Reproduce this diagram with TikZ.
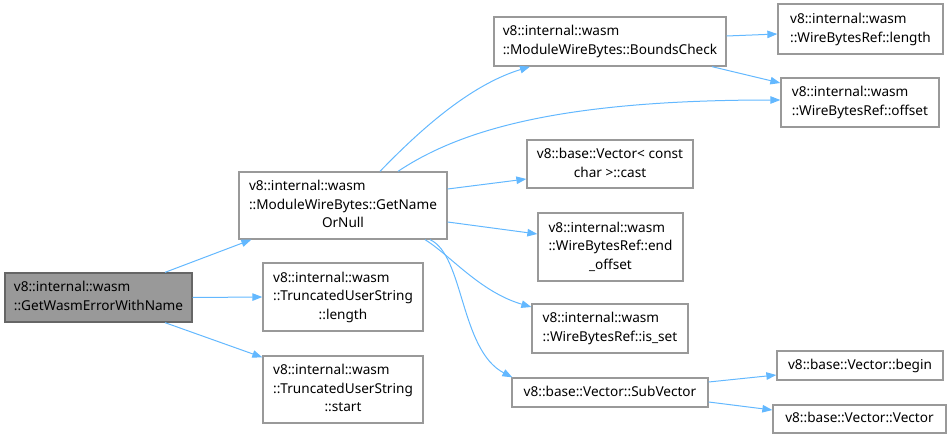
\documentclass[tikz,border=0pt]{standalone}
\usepackage{fontspec}
\setmainfont{Noto Sans}
\usetikzlibrary{arrows.meta}
\definecolor{edgeblue}{HTML}{63B8FF}
\definecolor{boxborder}{HTML}{999999}
\definecolor{hiborder}{HTML}{666666}
\definecolor{hifill}{HTML}{999999}
\newcommand{\lbl}[2]{\begin{tabular}{@{}l@{}}#1\\\multicolumn{1}{@{}c@{}}{#2}\end{tabular}}
\newcommand{\one}[1]{\begin{tabular}{@{}c@{}}#1\end{tabular}}
\begin{document}
\begin{tikzpicture}[x=1pt,y=-1pt,
  fn/.style={draw=boxborder,line width=1.3pt,fill=white,inner sep=0pt,
    font=\fontsize{13.6}{18.7}\selectfont},
  hi/.style={fn,draw=hiborder,fill=hifill},
  edge/.style={draw=edgeblue,line width=1pt,-{Triangle[length=10pt,width=7.5pt]}}]
\useasboundingbox (0,0) rectangle (951,439);
\node[hi,minimum width=187pt,minimum height=49pt] (A) at (98.5,297.5) {\lbl{v8::internal::wasm}{::GetWasmErrorWithName}};
\node[fn,minimum width=208pt,minimum height=67pt] (B) at (343,205.5) {\lbl{v8::internal::wasm\\::ModuleWireBytes::GetName}{OrNull}};
\node[fn,minimum width=160pt,minimum height=68pt] (C) at (343,297) {\lbl{v8::internal::wasm\\::TruncatedUserString}{::length}};
\node[fn,minimum width=160pt,minimum height=67pt] (D) at (343,389.5) {\lbl{v8::internal::wasm\\::TruncatedUserString}{::start}};
\node[fn,minimum width=232pt,minimum height=49pt] (E) at (610,41.5) {\lbl{v8::internal::wasm}{::ModuleWireBytes::BoundsCheck}};
\node[fn,minimum width=165pt,minimum height=50pt] (F) at (860.5,29) {\lbl{v8::internal::wasm}{::WireBytesRef::length}};
\node[fn,minimum width=158pt,minimum height=49pt] (G) at (860,102.5) {\lbl{v8::internal::wasm}{::WireBytesRef::offset}};
\node[fn,minimum width=166pt,minimum height=48pt] (H) at (610,164) {\lbl{v8::base::Vector< const}{char >::cast}};
\node[fn,minimum width=145pt,minimum height=68pt] (I) at (610.5,247) {\lbl{v8::internal::wasm\\::WireBytesRef::end}{\_offset}};
\node[fn,minimum width=156pt,minimum height=49pt] (J) at (610,328.5) {\lbl{v8::internal::wasm}{::WireBytesRef::is\_set}};
\node[fn,minimum width=196pt,minimum height=29pt] (K) at (610,392.5) {\one{v8::base::Vector::SubVector}};
\node[fn,minimum width=166pt,minimum height=29pt] (L) at (860,365.5) {\one{v8::base::Vector::begin}};
\node[fn,minimum width=173pt,minimum height=28pt] (M) at (859.5,419) {\one{v8::base::Vector::Vector}};
% edges
\draw[edge] ([xshift=66.5pt]A.north) -- ([xshift=13pt]B.south west);
\draw[edge] (A.east) -- (C.west);
\draw[edge] ([xshift=66.5pt]A.south) -- ([yshift=-2pt]D.north west);
\draw[edge] ([xshift=37pt]B.north) .. controls (420,130) and (470,85) .. ([xshift=-80pt]E.south);
\draw[edge] ([xshift=55pt]B.north) .. controls (460,130) and (560,100) .. ([yshift=2.5pt]G.west);
\draw[edge] ([yshift=16.5pt]B.east) -- ([yshift=-15pt]H.west);
\draw[edge] ([yshift=-16.5pt]B.east) -- ([yshift=13pt]I.west);
\draw[edge] ([xshift=82pt]B.south) .. controls (450,255) and (480,292) .. ([yshift=21.5pt]J.west);
\draw[edge] ([xshift=87pt]B.south) .. controls (464,255) and (460,350) .. ([xshift=1pt]K.north west);
\draw[edge] ([yshift=5.5pt]E.east) -- ([yshift=-5pt]F.west);
\draw[edge] ([xshift=102pt]E.south) -- ([yshift=19.5pt]G.west);
\draw[edge] ([yshift=10.5pt]K.east) -- ([yshift=-9.5pt]L.west);
\draw[edge] ([yshift=-9.5pt]K.east) -- ([yshift=9pt]M.west);
\end{tikzpicture}
\end{document}
